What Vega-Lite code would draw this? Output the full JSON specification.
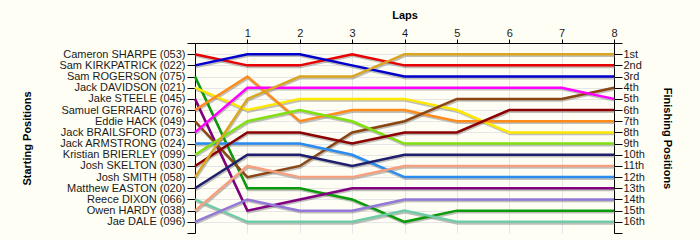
{
  "$schema": "https://vega.github.io/schema/vega-lite/v6.json",
  "width": 419,
  "height": 190,
  "autosize": {"type": "none"},
  "padding": {"left": 195, "top": 43, "right": 86, "bottom": 7},
  "background": "#fffef4",
  "config": {
    "view": {"stroke": null},
    "axis": {
      "labelFont": "Liberation Sans",
      "titleFont": "Liberation Sans",
      "labelFontSize": 11,
      "titleFontSize": 11,
      "titleFontWeight": "bold",
      "labelColor": "#1a1a1a",
      "titleColor": "#000000",
      "domainColor": "#000000",
      "tickColor": "#000000",
      "gridColor": "#e6e6e6",
      "labelFlush": false,
      "labelOverlap": false
    }
  },
  "data": {
    "values": [
      {"driver": "Cameron SHARPE (053)", "lap": 0, "pos": 1},
      {"driver": "Cameron SHARPE (053)", "lap": 1, "pos": 2},
      {"driver": "Cameron SHARPE (053)", "lap": 2, "pos": 2},
      {"driver": "Cameron SHARPE (053)", "lap": 3, "pos": 1},
      {"driver": "Cameron SHARPE (053)", "lap": 4, "pos": 2},
      {"driver": "Cameron SHARPE (053)", "lap": 5, "pos": 2},
      {"driver": "Cameron SHARPE (053)", "lap": 6, "pos": 2},
      {"driver": "Cameron SHARPE (053)", "lap": 7, "pos": 2},
      {"driver": "Cameron SHARPE (053)", "lap": 8, "pos": 2},
      {"driver": "Sam KIRKPATRICK (022)", "lap": 0, "pos": 2},
      {"driver": "Sam KIRKPATRICK (022)", "lap": 1, "pos": 1},
      {"driver": "Sam KIRKPATRICK (022)", "lap": 2, "pos": 1},
      {"driver": "Sam KIRKPATRICK (022)", "lap": 3, "pos": 2},
      {"driver": "Sam KIRKPATRICK (022)", "lap": 4, "pos": 3},
      {"driver": "Sam KIRKPATRICK (022)", "lap": 5, "pos": 3},
      {"driver": "Sam KIRKPATRICK (022)", "lap": 6, "pos": 3},
      {"driver": "Sam KIRKPATRICK (022)", "lap": 7, "pos": 3},
      {"driver": "Sam KIRKPATRICK (022)", "lap": 8, "pos": 3},
      {"driver": "Sam ROGERSON (075)", "lap": 0, "pos": 3},
      {"driver": "Sam ROGERSON (075)", "lap": 1, "pos": 13},
      {"driver": "Sam ROGERSON (075)", "lap": 2, "pos": 13},
      {"driver": "Sam ROGERSON (075)", "lap": 3, "pos": 14},
      {"driver": "Sam ROGERSON (075)", "lap": 4, "pos": 16},
      {"driver": "Sam ROGERSON (075)", "lap": 5, "pos": 15},
      {"driver": "Sam ROGERSON (075)", "lap": 6, "pos": 15},
      {"driver": "Sam ROGERSON (075)", "lap": 7, "pos": 15},
      {"driver": "Sam ROGERSON (075)", "lap": 8, "pos": 15},
      {"driver": "Jack DAVIDSON (021)", "lap": 0, "pos": 4},
      {"driver": "Jack DAVIDSON (021)", "lap": 1, "pos": 6},
      {"driver": "Jack DAVIDSON (021)", "lap": 2, "pos": 5},
      {"driver": "Jack DAVIDSON (021)", "lap": 3, "pos": 5},
      {"driver": "Jack DAVIDSON (021)", "lap": 4, "pos": 5},
      {"driver": "Jack DAVIDSON (021)", "lap": 5, "pos": 6},
      {"driver": "Jack DAVIDSON (021)", "lap": 6, "pos": 8},
      {"driver": "Jack DAVIDSON (021)", "lap": 7, "pos": 8},
      {"driver": "Jack DAVIDSON (021)", "lap": 8, "pos": 8},
      {"driver": "Jake STEELE (045)", "lap": 0, "pos": 5},
      {"driver": "Jake STEELE (045)", "lap": 1, "pos": 15},
      {"driver": "Jake STEELE (045)", "lap": 2, "pos": 14},
      {"driver": "Jake STEELE (045)", "lap": 3, "pos": 13},
      {"driver": "Jake STEELE (045)", "lap": 4, "pos": 13},
      {"driver": "Jake STEELE (045)", "lap": 5, "pos": 13},
      {"driver": "Jake STEELE (045)", "lap": 6, "pos": 13},
      {"driver": "Jake STEELE (045)", "lap": 7, "pos": 13},
      {"driver": "Jake STEELE (045)", "lap": 8, "pos": 13},
      {"driver": "Samuel GERRARD (076)", "lap": 0, "pos": 6},
      {"driver": "Samuel GERRARD (076)", "lap": 1, "pos": 3},
      {"driver": "Samuel GERRARD (076)", "lap": 2, "pos": 7},
      {"driver": "Samuel GERRARD (076)", "lap": 3, "pos": 6},
      {"driver": "Samuel GERRARD (076)", "lap": 4, "pos": 6},
      {"driver": "Samuel GERRARD (076)", "lap": 5, "pos": 7},
      {"driver": "Samuel GERRARD (076)", "lap": 6, "pos": 7},
      {"driver": "Samuel GERRARD (076)", "lap": 7, "pos": 7},
      {"driver": "Samuel GERRARD (076)", "lap": 8, "pos": 7},
      {"driver": "Eddie HACK (049)", "lap": 0, "pos": 7},
      {"driver": "Eddie HACK (049)", "lap": 1, "pos": 12},
      {"driver": "Eddie HACK (049)", "lap": 2, "pos": 11},
      {"driver": "Eddie HACK (049)", "lap": 3, "pos": 8},
      {"driver": "Eddie HACK (049)", "lap": 4, "pos": 7},
      {"driver": "Eddie HACK (049)", "lap": 5, "pos": 5},
      {"driver": "Eddie HACK (049)", "lap": 6, "pos": 5},
      {"driver": "Eddie HACK (049)", "lap": 7, "pos": 5},
      {"driver": "Eddie HACK (049)", "lap": 8, "pos": 4},
      {"driver": "Jack BRAILSFORD (073)", "lap": 0, "pos": 8},
      {"driver": "Jack BRAILSFORD (073)", "lap": 1, "pos": 4},
      {"driver": "Jack BRAILSFORD (073)", "lap": 2, "pos": 4},
      {"driver": "Jack BRAILSFORD (073)", "lap": 3, "pos": 4},
      {"driver": "Jack BRAILSFORD (073)", "lap": 4, "pos": 4},
      {"driver": "Jack BRAILSFORD (073)", "lap": 5, "pos": 4},
      {"driver": "Jack BRAILSFORD (073)", "lap": 6, "pos": 4},
      {"driver": "Jack BRAILSFORD (073)", "lap": 7, "pos": 4},
      {"driver": "Jack BRAILSFORD (073)", "lap": 8, "pos": 5},
      {"driver": "Jack ARMSTRONG (024)", "lap": 0, "pos": 9},
      {"driver": "Jack ARMSTRONG (024)", "lap": 1, "pos": 9},
      {"driver": "Jack ARMSTRONG (024)", "lap": 2, "pos": 9},
      {"driver": "Jack ARMSTRONG (024)", "lap": 3, "pos": 10},
      {"driver": "Jack ARMSTRONG (024)", "lap": 4, "pos": 12},
      {"driver": "Jack ARMSTRONG (024)", "lap": 5, "pos": 12},
      {"driver": "Jack ARMSTRONG (024)", "lap": 6, "pos": 12},
      {"driver": "Jack ARMSTRONG (024)", "lap": 7, "pos": 12},
      {"driver": "Jack ARMSTRONG (024)", "lap": 8, "pos": 12},
      {"driver": "Kristian BRIERLEY (099)", "lap": 0, "pos": 10},
      {"driver": "Kristian BRIERLEY (099)", "lap": 1, "pos": 7},
      {"driver": "Kristian BRIERLEY (099)", "lap": 2, "pos": 6},
      {"driver": "Kristian BRIERLEY (099)", "lap": 3, "pos": 7},
      {"driver": "Kristian BRIERLEY (099)", "lap": 4, "pos": 9},
      {"driver": "Kristian BRIERLEY (099)", "lap": 5, "pos": 9},
      {"driver": "Kristian BRIERLEY (099)", "lap": 6, "pos": 9},
      {"driver": "Kristian BRIERLEY (099)", "lap": 7, "pos": 9},
      {"driver": "Kristian BRIERLEY (099)", "lap": 8, "pos": 9},
      {"driver": "Josh SKELTON (030)", "lap": 0, "pos": 11},
      {"driver": "Josh SKELTON (030)", "lap": 1, "pos": 8},
      {"driver": "Josh SKELTON (030)", "lap": 2, "pos": 8},
      {"driver": "Josh SKELTON (030)", "lap": 3, "pos": 9},
      {"driver": "Josh SKELTON (030)", "lap": 4, "pos": 8},
      {"driver": "Josh SKELTON (030)", "lap": 5, "pos": 8},
      {"driver": "Josh SKELTON (030)", "lap": 6, "pos": 6},
      {"driver": "Josh SKELTON (030)", "lap": 7, "pos": 6},
      {"driver": "Josh SKELTON (030)", "lap": 8, "pos": 6},
      {"driver": "Josh SMITH (058)", "lap": 0, "pos": 12},
      {"driver": "Josh SMITH (058)", "lap": 1, "pos": 5},
      {"driver": "Josh SMITH (058)", "lap": 2, "pos": 3},
      {"driver": "Josh SMITH (058)", "lap": 3, "pos": 3},
      {"driver": "Josh SMITH (058)", "lap": 4, "pos": 1},
      {"driver": "Josh SMITH (058)", "lap": 5, "pos": 1},
      {"driver": "Josh SMITH (058)", "lap": 6, "pos": 1},
      {"driver": "Josh SMITH (058)", "lap": 7, "pos": 1},
      {"driver": "Josh SMITH (058)", "lap": 8, "pos": 1},
      {"driver": "Matthew EASTON (020)", "lap": 0, "pos": 13},
      {"driver": "Matthew EASTON (020)", "lap": 1, "pos": 10},
      {"driver": "Matthew EASTON (020)", "lap": 2, "pos": 10},
      {"driver": "Matthew EASTON (020)", "lap": 3, "pos": 11},
      {"driver": "Matthew EASTON (020)", "lap": 4, "pos": 10},
      {"driver": "Matthew EASTON (020)", "lap": 5, "pos": 10},
      {"driver": "Matthew EASTON (020)", "lap": 6, "pos": 10},
      {"driver": "Matthew EASTON (020)", "lap": 7, "pos": 10},
      {"driver": "Matthew EASTON (020)", "lap": 8, "pos": 10},
      {"driver": "Reece DIXON (066)", "lap": 0, "pos": 14},
      {"driver": "Reece DIXON (066)", "lap": 1, "pos": 16},
      {"driver": "Reece DIXON (066)", "lap": 2, "pos": 16},
      {"driver": "Reece DIXON (066)", "lap": 3, "pos": 16},
      {"driver": "Reece DIXON (066)", "lap": 4, "pos": 15},
      {"driver": "Reece DIXON (066)", "lap": 5, "pos": 16},
      {"driver": "Reece DIXON (066)", "lap": 6, "pos": 16},
      {"driver": "Reece DIXON (066)", "lap": 7, "pos": 16},
      {"driver": "Reece DIXON (066)", "lap": 8, "pos": 16},
      {"driver": "Owen HARDY (038)", "lap": 0, "pos": 15},
      {"driver": "Owen HARDY (038)", "lap": 1, "pos": 11},
      {"driver": "Owen HARDY (038)", "lap": 2, "pos": 12},
      {"driver": "Owen HARDY (038)", "lap": 3, "pos": 12},
      {"driver": "Owen HARDY (038)", "lap": 4, "pos": 11},
      {"driver": "Owen HARDY (038)", "lap": 5, "pos": 11},
      {"driver": "Owen HARDY (038)", "lap": 6, "pos": 11},
      {"driver": "Owen HARDY (038)", "lap": 7, "pos": 11},
      {"driver": "Owen HARDY (038)", "lap": 8, "pos": 11},
      {"driver": "Jae DALE (096)", "lap": 0, "pos": 16},
      {"driver": "Jae DALE (096)", "lap": 1, "pos": 14},
      {"driver": "Jae DALE (096)", "lap": 2, "pos": 15},
      {"driver": "Jae DALE (096)", "lap": 3, "pos": 15},
      {"driver": "Jae DALE (096)", "lap": 4, "pos": 14},
      {"driver": "Jae DALE (096)", "lap": 5, "pos": 14},
      {"driver": "Jae DALE (096)", "lap": 6, "pos": 14},
      {"driver": "Jae DALE (096)", "lap": 7, "pos": 14},
      {"driver": "Jae DALE (096)", "lap": 8, "pos": 14}
    ]
  },
  "layer": [
    {
      "mark": {"type": "line", "stroke": "#8a8a8a", "strokeWidth": 2.5, "opacity": 0.55, "xOffset": 0.7, "yOffset": 1.6},
      "encoding": {
        "detail": {"field": "driver", "type": "nominal"},
        "x": {
          "field": "lap", "type": "quantitative",
          "scale": {"domain": [0, 8], "nice": false, "zero": false},
          "axis": {"orient": "top", "values": [1, 2, 3, 4, 5, 6, 7, 8], "format": "d", "title": "Laps", "titleY": -23, "tickSize": 4, "labelPadding": 1, "grid": true, "domain": true}
        },
        "y": {
          "field": "pos", "type": "quantitative",
          "scale": {"domain": [0, 17], "reverse": true, "nice": false, "zero": false},
          "axis": {
            "orient": "left",
            "values": [0, 1, 2, 3, 4, 5, 6, 7, 8, 9, 10, 11, 12, 13, 14, 15, 16, 17],
            "labelExpr": "['', 'Cameron SHARPE (053)', 'Sam KIRKPATRICK (022)', 'Sam ROGERSON (075)', 'Jack DAVIDSON (021)', 'Jake STEELE (045)', 'Samuel GERRARD (076)', 'Eddie HACK (049)', 'Jack BRAILSFORD (073)', 'Jack ARMSTRONG (024)', 'Kristian BRIERLEY (099)', 'Josh SKELTON (030)', 'Josh SMITH (058)', 'Matthew EASTON (020)', 'Reece DIXON (066)', 'Owen HARDY (038)', 'Jae DALE (096)', ''][datum.value]",
            "title": "Starting Positions",
            "titleX": -163,
            "titleBaseline": "bottom",
            "tickSize": 8,
            "labelPadding": 2,
            "grid": true,
            "gridColor": {"condition": {"test": "datum.value == 17 || datum.value == 0", "value": "transparent"}, "value": "#e6e6e6"}
          }
        }
      }
    },
    {
      "mark": {"type": "line", "strokeWidth": 2.5},
      "encoding": {
        "x": {
          "field": "lap", "type": "quantitative",
          "scale": {"domain": [0, 8], "nice": false, "zero": false},
          "axis": {"orient": "top", "values": [1, 2, 3, 4, 5, 6, 7, 8], "format": "d", "title": "Laps", "titleY": -23, "tickSize": 4, "labelPadding": 1, "grid": true, "domain": true}
        },
        "y": {
          "field": "pos", "type": "quantitative",
          "scale": {"domain": [0, 17], "reverse": true, "nice": false, "zero": false},
          "axis": {
            "orient": "right",
            "values": [0, 1, 2, 3, 4, 5, 6, 7, 8, 9, 10, 11, 12, 13, 14, 15, 16, 17],
            "labelExpr": "datum.value >= 1 && datum.value <= 16 ? datum.value + (datum.value == 1 ? 'st' : datum.value == 2 ? 'nd' : datum.value == 3 ? 'rd' : 'th') : ''",
            "title": "Finishing Positions",
            "titleX": 47,
            "titleBaseline": "bottom",
            "tickSize": 8,
            "labelPadding": 1,
            "grid": false
          }
        },
        "color": {
          "field": "driver", "type": "nominal", "legend": null,
          "scale": {
            "domain": ["Cameron SHARPE (053)", "Sam KIRKPATRICK (022)", "Sam ROGERSON (075)", "Jack DAVIDSON (021)", "Jake STEELE (045)", "Samuel GERRARD (076)", "Eddie HACK (049)", "Jack BRAILSFORD (073)", "Jack ARMSTRONG (024)", "Kristian BRIERLEY (099)", "Josh SKELTON (030)", "Josh SMITH (058)", "Matthew EASTON (020)", "Reece DIXON (066)", "Owen HARDY (038)", "Jae DALE (096)"],
            "range": ["#e80000", "#0000cc", "#0a9a0a", "#ffe800", "#800080", "#ff8c1a", "#8b4513", "#ff00ff", "#2a8cf0", "#80e010", "#8b0000", "#daa520", "#1f1f6e", "#70cca8", "#f5a080", "#9478d8"]
          }
        }
      }
    }
  ],
  "resolve": {"axis": {"y": "independent"}}
}
